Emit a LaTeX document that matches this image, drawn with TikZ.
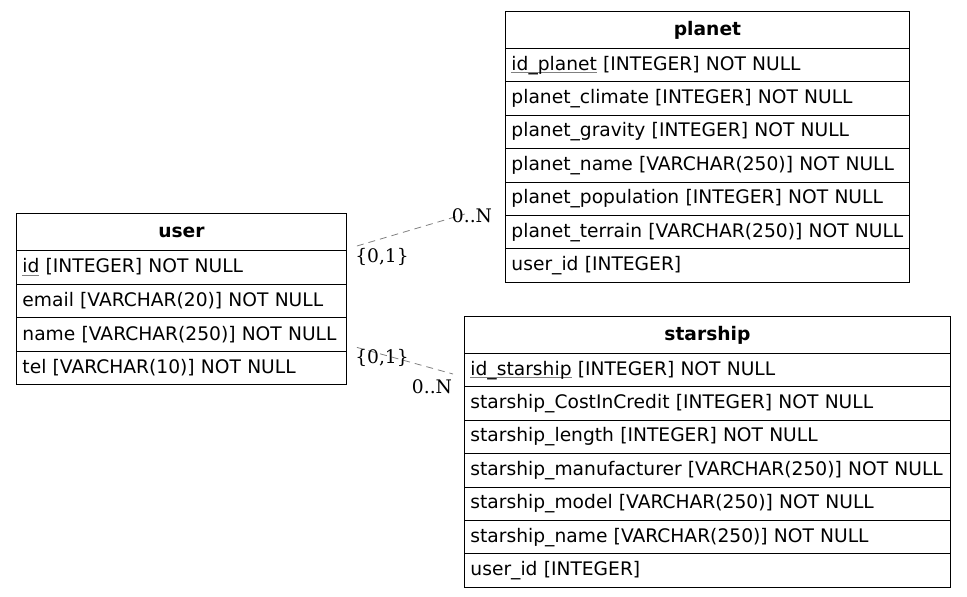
\documentclass[tikz,border=0pt]{standalone}
\usepackage{fontspec}
\setmainfont{DejaVu Sans}
\newfontfamily\lblfont{DejaVu Serif}
\newsavebox\ulbox
\newcommand{\ul}[1]{\sbox\ulbox{#1}\rlap{\textcolor{gray}{\rule[-3pt]{\wd\ulbox}{0.8pt}}}\usebox\ulbox}
\begin{document}
\begin{tikzpicture}[x=1pt,y=-1pt,
  cell/.style={draw=black, line width=0.9pt, rectangle, anchor=north west, inner xsep=6pt, inner ysep=0pt, align=left, font=\fontsize{18.67}{22}\selectfont},
  hdr/.style={cell, align=center, font=\fontsize{18.67}{22}\selectfont\bfseries},
  rel/.style={draw=gray, dashed, dash pattern=on 7pt off 5pt, line width=0.8pt},
  card/.style={font=\lblfont\fontsize{18.67}{22}\selectfont, inner sep=0pt}]
\useasboundingbox (0,0) rectangle (967,597);
% user
\node[hdr, minimum width=330pt, minimum height=37pt, text width=318pt] (uh) at (16,213) {user};
\node[cell, minimum width=330pt, minimum height=33.5pt, text width=318pt] (u1) at (16,250) {\ul{id} [INTEGER] NOT NULL};
\node[cell, minimum width=330pt, minimum height=33.5pt, text width=318pt] (u2) at (16,283.5) {email [VARCHAR(20)] NOT NULL};
\node[cell, minimum width=330pt, minimum height=33.5pt, text width=318pt] (u3) at (16,317) {name [VARCHAR(250)] NOT NULL};
\node[cell, minimum width=330pt, minimum height=33.5pt, text width=318pt] (u4) at (16,350.5) {tel [VARCHAR(10)] NOT NULL};
% planet
\node[hdr, minimum width=404pt, minimum height=37pt, text width=392pt] (ph) at (505,11) {planet};
\node[cell, minimum width=404pt, minimum height=33.4pt, text width=392pt] (p1) at (505,48) {\ul{id\_planet} [INTEGER] NOT NULL};
\node[cell, minimum width=404pt, minimum height=33.4pt, text width=392pt] (p2) at (505,81.4) {planet\_climate [INTEGER] NOT NULL};
\node[cell, minimum width=404pt, minimum height=33.4pt, text width=392pt] (p3) at (505,114.8) {planet\_gravity [INTEGER] NOT NULL};
\node[cell, minimum width=404pt, minimum height=33.4pt, text width=392pt] (p4) at (505,148.2) {planet\_name [VARCHAR(250)] NOT NULL};
\node[cell, minimum width=404pt, minimum height=33.4pt, text width=392pt] (p5) at (505,181.6) {planet\_population [INTEGER] NOT NULL};
\node[cell, minimum width=404pt, minimum height=33.4pt, text width=392pt] (p6) at (505,215) {planet\_terrain [VARCHAR(250)] NOT NULL};
\node[cell, minimum width=404pt, minimum height=33.4pt, text width=392pt] (p7) at (505,248.4) {user\_id [INTEGER]};
% starship
\node[hdr, minimum width=486pt, minimum height=37pt, text width=474pt] (sh) at (464,316) {starship};
\node[cell, minimum width=486pt, minimum height=33.4pt, text width=474pt] (s1) at (464,353) {\ul{id\_starship} [INTEGER] NOT NULL};
\node[cell, minimum width=486pt, minimum height=33.4pt, text width=474pt] (s2) at (464,386.4) {starship\_CostInCredit [INTEGER] NOT NULL};
\node[cell, minimum width=486pt, minimum height=33.4pt, text width=474pt] (s3) at (464,419.8) {starship\_length [INTEGER] NOT NULL};
\node[cell, minimum width=486pt, minimum height=33.4pt, text width=474pt] (s4) at (464,453.2) {starship\_manufacturer [VARCHAR(250)] NOT NULL};
\node[cell, minimum width=486pt, minimum height=33.4pt, text width=474pt] (s5) at (464,486.6) {starship\_model [VARCHAR(250)] NOT NULL};
\node[cell, minimum width=486pt, minimum height=33.4pt, text width=474pt] (s6) at (464,520) {starship\_name [VARCHAR(250)] NOT NULL};
\node[cell, minimum width=486pt, minimum height=33.4pt, text width=474pt] (s7) at (464,553.4) {user\_id [INTEGER]};
% relations
\coordinate (r1a) at ([xshift=10pt,yshift=4pt]u1.north east);
\coordinate (r1b) at ([xshift=-40pt,yshift=1pt]p6.north west);
\draw[rel] (r1a) -- (r1b);
\node[card] (c1a) at (382,257) {\{0,1\}};
\node[card] (c1b) at (472,216) {0..N};
\coordinate (r2a) at ([xshift=10pt,yshift=4pt]u3.south east);
\coordinate (r2b) at ([xshift=-11pt,yshift=-21pt]s1.north west);
\draw[rel] (r2a) -- (r2b);
\node[card] (c2a) at (382,358) {\{0,1\}};
\node[card] (c2b) at (432,387) {0..N};
\end{tikzpicture}
\end{document}
